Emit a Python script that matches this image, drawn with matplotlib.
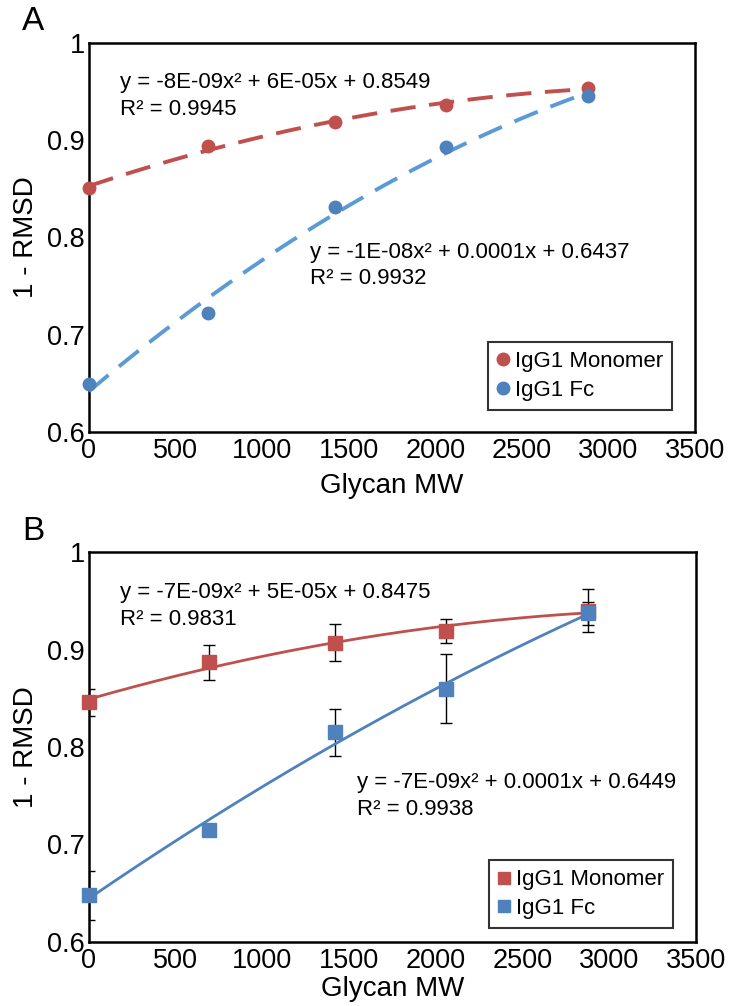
import numpy as np
import matplotlib
matplotlib.use("Agg")
import matplotlib.pyplot as plt
from matplotlib.lines import Line2D

plt.rcParams['font.family'] = ['Liberation Sans', 'DejaVu Sans']

# ---- data ----
glycan_mw = [0, 690, 1420, 2060, 2880]

a_monomer = [0.851, 0.894, 0.919, 0.936, 0.954]
a_fc = [0.649, 0.722, 0.831, 0.893, 0.945]

b_monomer = [0.846, 0.887, 0.907, 0.919, 0.940]
b_monomer_err = [0.014, 0.018, 0.019, 0.012, 0.022]
b_fc = [0.648, 0.715, 0.815, 0.860, 0.937]
b_fc_err = [0.025, 0.004, 0.024, 0.035, 0.012]

a_eq_monomer = "y = -8E-09x² + 6E-05x + 0.8549\nR² = 0.9945"
a_eq_fc = "y = -1E-08x² + 0.0001x + 0.6437\nR² = 0.9932"
b_eq_monomer = "y = -7E-09x² + 5E-05x + 0.8475\nR² = 0.9831"
b_eq_fc = "y = -7E-09x² + 0.0001x + 0.6449\nR² = 0.9938"

series_names = ["IgG1 Monomer", "IgG1 Fc"]
xticks = [0, 500, 1000, 1500, 2000, 2500, 3000, 3500]
yticks = [0.6, 0.7, 0.8, 0.9, 1.0]
ytick_labels = ["0.6", "0.7", "0.8", "0.9", "1"]

RED = "#C0504D"
BLUE = "#4F81BD"
LBLUE = "#5B9BD5"

W, H = 733, 1006
fig = plt.figure(figsize=(W / 100, H / 100), dpi=100)

def px_axes(l, r, t, b):
    return fig.add_axes([l / W, 1 - b / H, (r - l) / W, (b - t) / H])

axA = px_axes(89, 695, 43, 432)
axB = px_axes(89, 696, 552, 942)

def style(ax, xpad):
    ax.set_xlim(0, 3500)
    ax.set_ylim(0.6, 1.0)
    ax.set_xticks(xticks)
    ax.set_xticklabels([str(t) for t in xticks])
    ax.set_yticks(yticks)
    ax.set_yticklabels(ytick_labels)
    ax.tick_params(length=0, labelsize=19.5)
    ax.tick_params(axis='x', pad=4)
    ax.tick_params(axis='y', pad=3)
    for s in ax.spines.values():
        s.set_linewidth(1.8)
        s.set_color('black')
    ax.set_xlabel("Glycan MW", fontsize=20, labelpad=xpad)
    ax.set_ylabel("1 - RMSD", fontsize=20, labelpad=6)

x = np.array(glycan_mw, dtype=float)
xs = np.linspace(x.min(), x.max(), 200)

# ---- Panel A ----
style(axA, 7)
for ys, col, lcol in [(a_monomer, RED, RED), (a_fc, BLUE, LBLUE)]:
    c = np.polyfit(x, ys, 2)
    axA.plot(xs, np.polyval(c, xs), color=lcol, lw=2.8, dashes=(6.5, 3.5), zorder=3)
    axA.plot(x, ys, 'o', color=col, ms=9, zorder=4, clip_on=False)
axA.text(0.051, 0.863, a_eq_monomer, transform=axA.transAxes, fontsize=16,
         va='center', ha='left', linespacing=1.35)
axA.text(0.365, 0.428, a_eq_fc, transform=axA.transAxes, fontsize=16,
         va='center', ha='left', linespacing=1.35)
hA = [Line2D([], [], marker='o', ls='', color=RED, ms=9),
      Line2D([], [], marker='o', ls='', color=BLUE, ms=9)]
legA = axA.legend(hA, series_names, loc='lower right', bbox_to_anchor=(0.962, 0.057),
                  fontsize=16, frameon=True, fancybox=False, edgecolor='black',
                  handlelength=0.5, handletextpad=0.3, borderpad=0.4, labelspacing=0.35,
                  borderaxespad=0)
legA.get_frame().set_linewidth(1.5)

# ---- Panel B ----
style(axB, 1.5)
for ys, es, col in [(b_monomer, b_monomer_err, RED), (b_fc, b_fc_err, BLUE)]:
    c = np.polyfit(x, ys, 2)
    axB.plot(xs, np.polyval(c, xs), color=col, lw=2.0, zorder=3)
    axB.errorbar(x, ys, yerr=es, fmt='none', ecolor='black', elinewidth=1.0,
                 capsize=4, capthick=1.0, zorder=2)
    axB.plot(x, ys, 's', color=col, ms=10, zorder=4, clip_on=False)
axB.text(0.051, 0.862, b_eq_monomer, transform=axB.transAxes, fontsize=16,
         va='center', ha='left', linespacing=1.35)
axB.text(0.442, 0.374, b_eq_fc, transform=axB.transAxes, fontsize=16,
         va='center', ha='left', linespacing=1.35)
hB = [Line2D([], [], marker='s', ls='', color=RED, ms=9),
      Line2D([], [], marker='s', ls='', color=BLUE, ms=9)]
legB = axB.legend(hB, series_names, loc='lower right', bbox_to_anchor=(0.962, 0.036),
                  fontsize=16, frameon=True, fancybox=False, edgecolor='black',
                  handlelength=0.5, handletextpad=0.3, borderpad=0.4, labelspacing=0.35,
                  borderaxespad=0)
legB.get_frame().set_linewidth(1.5)

fig.text(22 / W, 1 - 22 / H, "A", fontsize=24, va='center', ha='left')
fig.text(22 / W, 1 - 532 / H, "B", fontsize=24, va='center', ha='left')

fig.savefig("out.png", dpi=100)
